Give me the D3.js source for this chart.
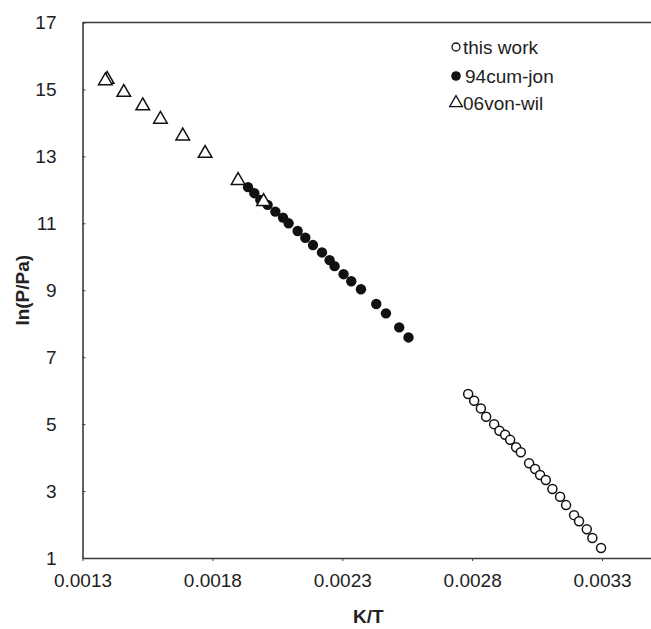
<!DOCTYPE html>
<html lang="en">
<head>
  <meta charset="UTF-8">
  <title>ln(P/Pa) vs K/T</title>
  <script src="https://d3js.org/d3.v7.min.js"></script>
  <style>
    body { margin: 0; background: #fff; font-family: "Liberation Sans", Arial, sans-serif; }
    svg { display: block; }
    .tick text { font-size: 19px; fill: #222; }
  </style>
</head>
<body>
  <svg width="651" height="629"></svg>

  <script>
    // this work (open circles)
    const thisWorkX = [0.0027846, 0.0028077, 0.0028335, 0.0028538, 0.0028846, 0.002905, 0.0029269, 0.0029462,
      0.0029692, 0.0029873, 0.0030192, 0.0030423, 0.0030615, 0.0030835, 0.0031088, 0.0031385, 0.0031615,
      0.0031923, 0.0032115, 0.0032412, 0.0032627, 0.0032962];
    const thisWorkY = [5.90, 5.70, 5.47, 5.22, 5.00, 4.80, 4.68, 4.53, 4.31, 4.16, 3.83, 3.66, 3.48, 3.33,
      3.06, 2.83, 2.58, 2.28, 2.10, 1.86, 1.60, 1.30];

    // 94cum-jon (filled circles)
    const cumJonX = [0.0019373, 0.0019615, 0.0019846, 0.0020127, 0.0020423, 0.0020719, 0.0020935, 0.0021281,
      0.0021577, 0.0021873, 0.0022219, 0.0022512, 0.0022704, 0.002305, 0.0023346, 0.0023719, 0.0024308,
      0.0024681, 0.0025192, 0.002555];
    const cumJonY = [12.08, 11.90, 11.70, 11.55, 11.35, 11.17, 11.00, 10.77, 10.57, 10.35, 10.13, 9.90, 9.72,
      9.48, 9.27, 9.03, 8.59, 8.31, 7.89, 7.59];

    // 06von-wil (open triangles)
    const vonWilX = [0.001395, 0.001388, 0.001459, 0.001532, 0.0016, 0.001686, 0.001772, 0.001899, 0.001997];
    const vonWilY = [15.30, 15.26, 14.91, 14.51, 14.11, 13.61, 13.09, 12.28, 11.65];

    const xTicks = [0.0013, 0.0018, 0.0023, 0.0028, 0.0033];
    const yTicks = [1, 3, 5, 7, 9, 11, 13, 15, 17];
    const legendLabels = ["this work", "94cum-jon", "06von-wil"];

    const svg = d3.select("svg");
    const plotLeft = 82.5, plotRight = 654, plotTop = 22.5, plotBottom = 558;

    const x = d3.scaleLinear().domain([0.0013, 0.0035]).range([plotLeft, plotRight]);
    const y = d3.scaleLinear().domain([1, 17]).range([plotBottom, plotTop]);

    const axisColor = "#3a3a3a";

    // x axis
    const gx = svg.append("g")
      .attr("transform", `translate(0,${plotBottom})`)
      .call(d3.axisBottom(x).tickValues(xTicks).tickFormat(d3.format(".4f")).tickSizeInner(3).tickSizeOuter(0).tickPadding(13));
    gx.select(".domain").attr("stroke", axisColor).attr("stroke-width", 1.6);
    gx.selectAll(".tick line").attr("stroke", axisColor);

    // y axis
    const gy = svg.append("g")
      .attr("transform", `translate(${plotLeft},0)`)
      .call(d3.axisLeft(y).tickValues(yTicks).tickSizeInner(-3).tickSizeOuter(0).tickPadding(26));
    gy.select(".domain").attr("stroke", axisColor).attr("stroke-width", 1.6);
    gy.selectAll(".tick line").attr("stroke", axisColor);

    // top frame line
    svg.append("line")
      .attr("x1", plotLeft).attr("x2", 651)
      .attr("y1", plotTop).attr("y2", plotTop)
      .attr("stroke", axisColor).attr("stroke-width", 1.6);

    // axis titles
    svg.append("text")
      .attr("x", (plotLeft + plotRight) / 2).attr("y", 623)
      .attr("text-anchor", "middle")
      .attr("font-size", 19).attr("font-weight", "bold").attr("fill", "#222")
      .text("K/T");
    svg.append("text")
      .attr("transform", `translate(29,${(plotTop + plotBottom) / 2}) rotate(-90)`)
      .attr("text-anchor", "middle")
      .attr("font-size", 19).attr("font-weight", "bold").attr("fill", "#222")
      .text("ln(P/Pa)");

    const marks = svg.append("g");

    // this work
    marks.selectAll("circle.tw")
      .data(d3.zip(thisWorkX, thisWorkY))
      .join("circle")
      .attr("class", "tw")
      .attr("cx", d => x(d[0])).attr("cy", d => y(d[1]))
      .attr("r", 4.5)
      .attr("fill", "white").attr("stroke", "#111").attr("stroke-width", 1.5);

    // 94cum-jon
    marks.selectAll("circle.cj")
      .data(d3.zip(cumJonX, cumJonY))
      .join("circle")
      .attr("class", "cj")
      .attr("cx", d => x(d[0])).attr("cy", d => y(d[1]))
      .attr("r", 5.2)
      .attr("fill", "#111");

    // 06von-wil
    const tri = d3.symbol(d3.symbolTriangle, 80);
    marks.selectAll("path.vw")
      .data(d3.zip(vonWilX, vonWilY))
      .join("path")
      .attr("class", "vw")
      .attr("transform", d => `translate(${x(d[0])},${y(d[1])})`)
      .attr("d", tri)
      .attr("fill", "white").attr("stroke", "#111").attr("stroke-width", 1.5);

    // legend
    const legend = svg.append("g").attr("transform", "translate(456,0)");
    const rowsY = [47, 76, 103];
    legendLabels.forEach((label, i) => {
      const row = legend.append("g").attr("transform", `translate(0,${rowsY[i]})`);
      if (i === 0) {
        row.append("circle").attr("r", 4).attr("fill", "white").attr("stroke", "#111").attr("stroke-width", 1.3);
      } else if (i === 1) {
        row.append("circle").attr("r", 4.8).attr("fill", "#111");
      } else {
        row.append("path").attr("d", d3.symbol(d3.symbolTriangle, 70)).attr("fill", "white").attr("stroke", "#111").attr("stroke-width", 1.3);
      }
      row.append("text")
        .attr("x", i === 1 ? 9 : 7).attr("y", 6.5)
        .attr("font-size", 19).attr("fill", "#222")
        .text(label);
    });
  </script>
</body>
</html>
